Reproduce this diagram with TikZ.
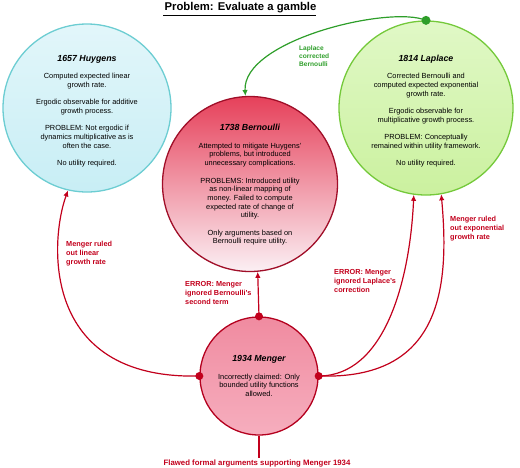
\documentclass[tikz,border=0pt]{standalone}
\usepackage{fontspec}
\setmainfont{Liberation Sans}
\usetikzlibrary{arrows.meta}
\definecolor{errred}{HTML}{C2001C}
\definecolor{okgreen}{HTML}{2E9E2A}
\definecolor{hutop}{HTML}{E2F6FA}
\definecolor{hubot}{HTML}{C8EEF5}
\definecolor{huline}{HTML}{6CCDD2}
\definecolor{latop}{HTML}{E0F8C6}
\definecolor{labot}{HTML}{CBF19F}
\definecolor{laline}{HTML}{74C93A}
\definecolor{betop}{HTML}{E6405A}
\definecolor{bebot}{HTML}{FBF0F4}
\definecolor{beline}{HTML}{A00E28}
\definecolor{metop}{HTML}{F08BA0}
\definecolor{mebot}{HTML}{F6AEBE}
\definecolor{meline}{HTML}{B4001E}
\newcommand\circtitle[1]{{\bfseries\itshape\fontsize{8.8}{8.7}\selectfont #1}}
\begin{document}
\begin{tikzpicture}[x=1pt,y=-1pt,
  bubble/.style={circle,inner sep=0pt,line width=1.3pt,shading=axis},
  bodytext/.style={align=center,inner sep=0pt,font=\fontsize{7.4}{8.7}\selectfont},
  redlab/.style={anchor=north west,align=left,inner sep=0pt,text=errred,font=\bfseries\fontsize{7.3}{8.7}\selectfont},
  redcon/.style={draw=errred,line width=1.2pt,-{Latex[length=6pt,width=5.5pt]}},
  grcon/.style={draw=okgreen,line width=1.2pt,-{Latex[length=6pt,width=5.5pt]}}
]
\useasboundingbox (0,0) rectangle (520,467);

% title
\node[font=\bfseries\fontsize{11.3}{13}\selectfont,inner sep=0pt,anchor=base] (ti) at (240.5,10) {Problem: Evaluate a gamble};
\draw[line width=1.4pt] (163,15.5) -- (316,15.5);

% circles
\node[bubble,draw=huline,top color=hutop,bottom color=hubot,minimum size=168pt] (hu) at (87,108) {};
\node[bubble,draw=laline,top color=latop,bottom color=labot,minimum size=174pt] (la) at (426,108) {};
\node[bubble,draw=beline,top color=betop,bottom color=bebot,minimum size=175pt] (be) at (250,184) {};
\node[bubble,draw=meline,top color=metop,bottom color=mebot,minimum size=118pt] (me) at (259,376) {};

% circle texts
\node[bodytext] (hut) at (87,111) {\circtitle{1657 Huygens}\\[8.7pt]
Computed expected linear\\growth rate.\\[8.7pt]
Ergodic observable for additive\\growth process.\\[8.7pt]
PROBLEM: Not ergodic if\\dynamics multiplicative as is\\often the case.\\[8.7pt]
No utility required.};

\node[bodytext] (lat) at (426,111) {\circtitle{1814 Laplace}\\[8.7pt]
Corrected Bernoulli and\\computed expected exponential\\growth rate.\\[8.7pt]
Ergodic observable for\\multiplicative growth process.\\[8.7pt]
PROBLEM: Conceptually\\remained within utility framework.\\[8.7pt]
No utility required.};

\node[bodytext] (bet) at (250,185) {\circtitle{1738 Bernoulli}\\[8.7pt]
Attempted to mitigate Huygens'\\problems, but introduced\\unnecessary complications.\\[8.7pt]
PROBLEMS: Introduced utility\\as non-linear mapping of\\money. Failed to compute\\expected rate of change of\\utility.\\[8.7pt]
Only arguments based on\\Bernoulli require utility.};

\node[bodytext] (met) at (259,376) {\circtitle{1934 Menger}\\[8.7pt]
Incorrectly claimed: Only\\bounded utility functions\\allowed.};

% connectors
\draw[grcon] (la.north) .. controls (390,5) and (242,40) .. (be.93);
\fill[okgreen] (la.north) circle[radius=4.5pt];

\draw[redcon] (me.north) -- (be.-85);
\draw[redcon] (me.west) .. controls (40,380) and (50,240) .. (hu.-103);
\draw[redcon] (me.east) .. controls (385,376) and (410,280) .. (la.-98);
\draw[redcon] (me.east) .. controls (440,380) and (450,290) .. (la.-80);
\node[font=\bfseries\fontsize{7.8}{9}\selectfont,text=errred,inner sep=1pt] (fl) at (257,463) {Flawed formal arguments supporting Menger 1934};
\draw[draw=errred,line width=1.2pt] (me.south) -- (me.south |- fl.north);
\fill[errred] (me.north) circle[radius=4pt];
\fill[errred] (me.west) circle[radius=4pt];
\fill[errred] (me.east) circle[radius=4pt];

% labels
\node[anchor=north west,align=left,inner sep=0pt,text=okgreen,font=\bfseries\fontsize{6.6}{8}\selectfont] (lg) at (299,46) {Laplace\\corrected\\Bernoulli};
\node[redlab] (l1) at (185,281.5) {ERROR: Menger\\ignored Bernoulli's\\second term};
\node[redlab] (l2) at (66,241.5) {Menger ruled\\out linear\\growth rate};
\node[redlab] (l3) at (334,269.5) {ERROR: Menger\\ignored Laplace's\\correction};
\node[redlab] (l4) at (450,216.5) {Menger ruled\\out exponential\\growth rate};
\end{tikzpicture}
\end{document}
